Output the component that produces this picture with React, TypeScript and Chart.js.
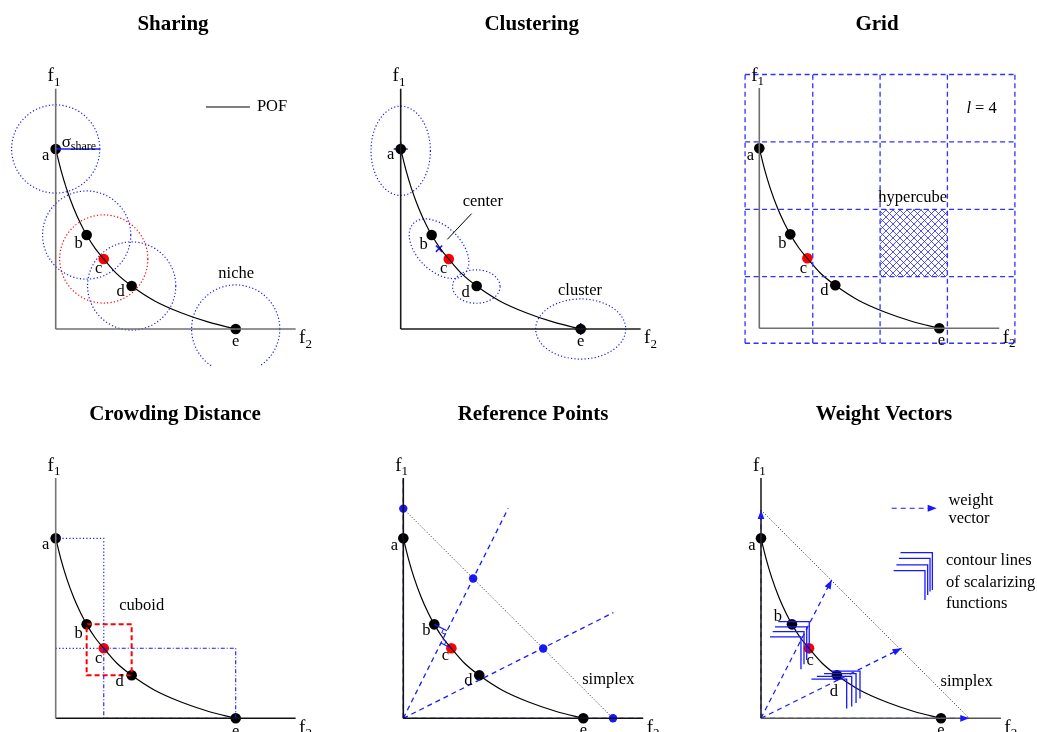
import React, { useEffect, useRef } from "react";
import { Chart, registerables } from "chart.js";

Chart.register(...registerables);

// ---------- shared data (f2 on x, f1 on y; 1 unit = distance origin -> e) ----------
const UNIT = 180;
const SERIF = '"Liberation Serif", "Times New Roman", serif';
const BLUE = "#1818ff";
const RED = "#ff0000";
const GRAY = "#6f6f6f";

const POINT_NAMES = ["a", "b", "c", "d", "e"];
const POINT_F2 = [0, 0.172, 0.267, 0.422, 1];
const POINT_F1 = [1, 0.522, 0.389, 0.239, 0];
const POINT_COLORS = ["#000", "#000", RED, "#000", "#000"];

const POF_F2 = [0, 0.03, 0.06, 0.1, 0.14, 0.172, 0.22, 0.267, 0.34, 0.422, 0.55, 0.7, 0.85, 1];
const POF_F1 = [1, 0.88, 0.78, 0.671, 0.582, 0.522, 0.446, 0.389, 0.306, 0.239, 0.156, 0.089, 0.038, 0];

const AXIS_F1_TOP = 1.335;
const AXIS_F2_END = 1.333;

// Sharing
const NICHE_RADIUS = 0.245;

// Clustering
const CLUSTER_CX = [0, 0.213, 0.42, 1];
const CLUSTER_CY = [0.99, 0.446, 0.236, 0];
const CLUSTER_RX = [0.165, 0.2, 0.132, 0.25];
const CLUSTER_RY = [0.248, 0.122, 0.093, 0.167];
const CLUSTER_TILT = [0, 45, 0, 0];
const CENTER_F2 = [0, 0.213, 0.422, 1];
const CENTER_F1 = [1, 0.446, 0.239, 0];

// Grid
const GRID_F2 = [-0.079, 0.297, 0.671, 1.045, 1.42];
const GRID_F1 = [-0.083, 0.287, 0.661, 1.036, 1.41];
const HYPERCUBE_COL = 2;
const HYPERCUBE_ROW = 1;

// Reference points
const REF_F2 = [0, 0.388, 0.777, 1.165];
const REF_F1 = [1.165, 0.777, 0.388, 0];
const REF_LINE_END_F2 = [0.583, 1.167];
const REF_LINE_END_F1 = [1.167, 0.587];
const NICHED_POINTS = [1, 2];
const PERP_FOOT_F2 = [0.243, 0.209];
const PERP_FOOT_F1 = [0.486, 0.418];
const RIGHT_ANGLE_F2 = [[0.2234, 0.2136, 0.2332], [0.2287, 0.2385, 0.2188]];
const RIGHT_ANGLE_F1 = [[0.4959, 0.4762, 0.4663], [0.4082, 0.4279, 0.4377]];

// Weight vectors
const WEIGHT_TIP_F2 = [0, 0.393, 0.781, 1.157];
const WEIGHT_TIP_F1 = [1.157, 0.769, 0.389, 0];
const SIMPLEX_W = 1.157;
const CONTOUR_B_CORNER_F2 = [0.268, 0.254, 0.239, 0.222];
const CONTOUR_B_CORNER_F1 = [0.537, 0.508, 0.482, 0.452];
const CONTOUR_B_LEFT = [0.096, 0.078, 0.065, 0.05];
const CONTOUR_B_BOTTOM = [0.36, 0.324, 0.3, 0.272];
const CONTOUR_D_CORNER_F2 = [0.55, 0.528, 0.504, 0.476];
const CONTOUR_D_CORNER_F1 = [0.262, 0.248, 0.233, 0.218];
const CONTOUR_D_LEFT = [0.39, 0.35, 0.31, 0.28];
const CONTOUR_D_BOTTOM = [0.11, 0.085, 0.065, 0.055];
const LEG_CONTOUR_CORNER_F2 = [0.952, 0.939, 0.926, 0.911];
const LEG_CONTOUR_CORNER_F1 = [0.92, 0.889, 0.852, 0.82];
const LEG_CONTOUR_LEFT = [0.775, 0.766, 0.752, 0.737];
const LEG_CONTOUR_BOTTOM = [0.713, 0.704, 0.685, 0.657];

// ---------- helpers ----------
type P = { x: number | null; y: number | null };
const pts = (xs: number[], ys: number[]): P[] => xs.map((x, i) => ({ x, y: ys[i] }));
const BREAK: P = { x: null, y: null };
const joinPaths = (paths: P[][]): P[] => paths.flatMap((p) => [...p, BREAK]);

const lineDs = (data: P[], color: string, width = 1.2, dash: number[] = [], extra: any = {}) => ({
  data,
  showLine: true,
  borderColor: color,
  borderWidth: width,
  borderDash: dash,
  pointRadius: 0,
  pointHoverRadius: 0,
  fill: false,
  tension: 0,
  ...extra,
});

const markDs = (xs: number[], ys: number[], colors: any, radius: any, extra: any = {}) => ({
  data: pts(xs, ys),
  showLine: false,
  pointRadius: radius,
  pointHoverRadius: radius,
  pointBackgroundColor: colors,
  pointBorderColor: colors,
  pointBorderWidth: 0,
  ...extra,
});

const axesDs = (colY: string, colX: string = colY) => [
  lineDs(pts([0, 0], [0, AXIS_F1_TOP]), colY, 1.6),
  lineDs(pts([0, AXIS_F2_END], [0, 0]), colX, 1.6),
];
const pofDs = () =>
  lineDs(pts(POF_F2, POF_F1), "#000", 1.2, [], { tension: 0.4, cubicInterpolationMode: "monotone" });
const pointsDs = () => markDs(POINT_F2, POINT_F1, POINT_COLORS, 5.3);

const contourPaths = (cx: number[], cy: number[], left: number[], bottom: number[]) =>
  joinPaths(cx.map((x, i) => pts([left[i], x, x], [cy[i], cy[i], bottom[i]])));

const AXIS_TEXTS = [
  { t: "f", sub: "1", x: -0.045, y: 1.376, size: 19, subSize: 13, drop: 4.5 },
  { t: "f", sub: "2", x: 1.352, y: -0.08, size: 19, subSize: 13, drop: 4.5 },
];

const I = { a: 0, b: 1, c: 2, d: 3, e: 4 };

// ---------- panels ----------
const PANELS: any[] = [
  {
    left: 0, top: 0, width: 345, height: 366, ox: 55.7, oy: 329,
    title: "Sharing", titleX: 173, titleY: 29.5,
    labelOffsets: [[-10, 7], [-8, 9], [-5, 10], [-11, 6], [0, 13]],
    ellipses: POINT_F2.map((x, i) => ({
      cx: x, cy: POINT_F1[i], rx: NICHE_RADIUS, ry: NICHE_RADIUS, rot: 0, color: i === I.c ? RED : BLUE,
    })),
    arrows: [],
    texts: [
      ...AXIS_TEXTS,
      { t: "POF", x: 1.118, y: 1.233, align: "left" },
      { t: "σ", sub: "share", x: 0.033, y: 1.013, size: 17, subSize: 12, drop: 3 },
      { t: "niche", x: 1.003, y: 0.306 },
    ],
    build: () => [
      ...axesDs(GRAY),
      lineDs(pts([0, NICHE_RADIUS], [POINT_F1[I.a], POINT_F1[I.a]]), BLUE, 1.3),
      lineDs(pts([0.835, 1.079], [1.233, 1.233]), "#000", 1.1),
      pofDs(),
      pointsDs(),
    ],
  },
  {
    left: 345, top: 0, width: 345, height: 366, ox: 55.7, oy: 329,
    title: "Clustering", titleX: 186.7, titleY: 29.5,
    labelOffsets: [[-10, 6], [-8, 10], [-5, 10], [-11, 7], [0, 13]],
    ellipses: CLUSTER_CX.map((x, i) => ({
      cx: x, cy: CLUSTER_CY[i], rx: CLUSTER_RX[i], ry: CLUSTER_RY[i], rot: CLUSTER_TILT[i], color: BLUE,
    })),
    arrows: [],
    texts: [...AXIS_TEXTS, { t: "center", x: 0.456, y: 0.706 }, { t: "cluster", x: 0.996, y: 0.213 }],
    build: () => [
      ...axesDs("#1a1a1a"),
      lineDs(pts([0.394, 0.259], [0.641, 0.498]), "#000", 1),
      pofDs(),
      pointsDs(),
      markDs(CENTER_F2, CENTER_F1, BLUE, [7, 4.5, 4.5, 6], {
        pointStyle: ["cross", "crossRot", "cross", "cross"],
        pointBorderWidth: 1.5,
        pointBackgroundColor: "rgba(0,0,0,0)",
      }),
    ],
  },
  {
    left: 690, top: 0, width: 347, height: 366, ox: 69.3, oy: 328.3,
    title: "Grid", titleX: 187, titleY: 29.5,
    labelOffsets: [[-9, 7], [-8, 9], [-4, 10], [-11, 5], [2, 12]],
    ellipses: [],
    arrows: [],
    texts: [
      ...AXIS_TEXTS,
      { t: "hypercube", x: 0.852, y: 0.728 },
      { parts: [{ t: "l", italic: true }, { t: " = 4" }], x: 1.235, y: 1.222 },
    ],
    build: (pattern: any) => {
      const x0 = GRID_F2[HYPERCUBE_COL], x1 = GRID_F2[HYPERCUBE_COL + 1];
      const y0 = GRID_F1[HYPERCUBE_ROW], y1 = GRID_F1[HYPERCUBE_ROW + 1];
      const gridPaths = [
        ...GRID_F2.map((x) => pts([x, x], [GRID_F1[0], GRID_F1[GRID_F1.length - 1]])),
        ...GRID_F1.map((y) => pts([GRID_F2[0], GRID_F2[GRID_F2.length - 1]], [y, y])),
      ];
      return [
        lineDs(pts([x0, x1, x1, x0, x0], [y0, y0, y1, y1, y0]), "rgba(0,0,0,0)", 0, [], {
          fill: "shape",
          backgroundColor: pattern,
        }),
        lineDs(joinPaths(gridPaths), "#3030ff", 1.3, [5, 3.5]),
        ...axesDs(GRAY),
        pofDs(),
        pointsDs(),
      ];
    },
  },
  {
    left: 0, top: 366, width: 345, height: 366, ox: 55.7, oy: 352.3,
    title: "Crowding Distance", titleX: 175, titleY: 53.5,
    labelOffsets: [[-10, 6], [-8, 9], [-5, 10], [-12, 6], [0, 13]],
    ellipses: [],
    arrows: [],
    texts: [...AXIS_TEXTS, { t: "cuboid", x: 0.478, y: 0.624 }],
    build: () => {
      const A = I.a, B = I.b, C = I.c, D = I.d, E = I.e;
      return [
        ...axesDs("#777", "#111"),
        lineDs(
          joinPaths([
            pts([POINT_F2[A], POINT_F2[C], POINT_F2[C]], [POINT_F1[A], POINT_F1[A], POINT_F1[C]]),
            pts([POINT_F2[A], POINT_F2[C]], [POINT_F1[C], POINT_F1[C]]),
          ]),
          BLUE, 1.2, [1.2, 2.2]
        ),
        lineDs(
          joinPaths([
            pts([POINT_F2[C], POINT_F2[E], POINT_F2[E]], [POINT_F1[C], POINT_F1[C], POINT_F1[E]]),
            pts([POINT_F2[C], POINT_F2[C], POINT_F2[E]], [POINT_F1[C], POINT_F1[E], POINT_F1[E]]),
          ]),
          BLUE, 1.1, [4, 2, 1, 2]
        ),
        pofDs(),
        lineDs(
          pts(
            [POINT_F2[B], POINT_F2[D], POINT_F2[D], POINT_F2[B], POINT_F2[B]],
            [POINT_F1[B], POINT_F1[B], POINT_F1[D], POINT_F1[D], POINT_F1[B]]
          ),
          RED, 2, [5, 3]
        ),
        pointsDs(),
      ];
    },
  },
  {
    left: 345, top: 366, width: 345, height: 366, ox: 58.3, oy: 352.3,
    title: "Reference Points", titleX: 188, titleY: 53.5,
    labelOffsets: [[-9, 7], [-8, 6], [-6, 7], [-11, 5], [0, 12]],
    ellipses: [],
    arrows: [],
    texts: [...AXIS_TEXTS, { t: "simplex", x: 1.139, y: 0.213 }],
    build: () => [
      ...axesDs("#111"),
      lineDs(joinPaths([pts([0, 0], [0, AXIS_F1_TOP]), pts([0, AXIS_F2_END], [0, 0])]), BLUE, 1.3, [5, 4]),
      lineDs(pts([REF_F2[0], REF_F2[REF_F2.length - 1]], [REF_F1[0], REF_F1[REF_F1.length - 1]]), "#222", 1, [1, 2]),
      lineDs(joinPaths(REF_LINE_END_F2.map((x, i) => pts([0, x], [0, REF_LINE_END_F1[i]]))), BLUE, 1.3, [5, 4]),
      lineDs(
        joinPaths(NICHED_POINTS.map((p, i) => pts([POINT_F2[p], PERP_FOOT_F2[i]], [POINT_F1[p], PERP_FOOT_F1[i]]))),
        BLUE, 1.2
      ),
      lineDs(joinPaths(RIGHT_ANGLE_F2.map((xs, i) => pts(xs, RIGHT_ANGLE_F1[i]))), BLUE, 1),
      pofDs(),
      pointsDs(),
      markDs(REF_F2, REF_F1, BLUE, 4.2),
    ],
  },
  {
    left: 690, top: 366, width: 347, height: 366, ox: 71, oy: 352.3,
    title: "Weight Vectors", titleX: 194, titleY: 53.5,
    labelOffsets: [[-9, 7], [-14, -8], [1, 12], [-3, 16], [0, 12]],
    ellipses: [],
    arrows: [
      ...WEIGHT_TIP_F2.map((x, i) => [0, 0, x, WEIGHT_TIP_F1[i]]),
      [0.726, 1.167, 0.976, 1.167],
    ],
    texts: [
      ...AXIS_TEXTS,
      { t: "weight", x: 1.041, y: 1.207, align: "left" },
      { t: "vector", x: 1.041, y: 1.107, align: "left" },
      { t: "contour lines", x: 1.028, y: 0.874, align: "left" },
      { t: "of scalarizing", x: 1.028, y: 0.756, align: "left" },
      { t: "functions", x: 1.028, y: 0.639, align: "left" },
      { t: "simplex", x: 1.143, y: 0.203 },
    ],
    build: () => [
      ...axesDs("#222", "#555"),
      lineDs(joinPaths(WEIGHT_TIP_F2.map((x, i) => pts([0, x], [0, WEIGHT_TIP_F1[i]]))), BLUE, 1.2, [5, 4]),
      lineDs(pts([0, SIMPLEX_W], [SIMPLEX_W, 0]), "#222", 1, [1, 2]),
      lineDs(contourPaths(CONTOUR_B_CORNER_F2, CONTOUR_B_CORNER_F1, CONTOUR_B_LEFT, CONTOUR_B_BOTTOM), BLUE, 1.3),
      lineDs(contourPaths(CONTOUR_D_CORNER_F2, CONTOUR_D_CORNER_F1, CONTOUR_D_LEFT, CONTOUR_D_BOTTOM), BLUE, 1.3),
      pofDs(),
      pointsDs(),
      lineDs(pts([0.726, 0.976], [1.167, 1.167]), BLUE, 1.2, [5, 4]),
      lineDs(contourPaths(LEG_CONTOUR_CORNER_F2, LEG_CONTOUR_CORNER_F1, LEG_CONTOUR_LEFT, LEG_CONTOUR_BOTTOM), BLUE, 1.3),
    ],
  },
];

// ---------- drawing plugin ----------
function overlayPlugin(spec: any) {
  return {
    id: "overlay",
    beforeDatasetsDraw(chart: any) {
      const ctx = chart.ctx;
      const xs = chart.scales.x, ys = chart.scales.y;
      ctx.save();
      for (const e of spec.ellipses) {
        const cx = xs.getPixelForValue(e.cx), cy = ys.getPixelForValue(e.cy);
        const rx = Math.abs(xs.getPixelForValue(e.cx + e.rx) - cx);
        const ry = Math.abs(ys.getPixelForValue(e.cy + e.ry) - cy);
        ctx.beginPath();
        ctx.ellipse(cx, cy, rx, ry, ((e.rot || 0) * Math.PI) / 180, 0, Math.PI * 2);
        ctx.strokeStyle = e.color;
        ctx.lineWidth = 1.2;
        ctx.setLineDash([1.2, 2.2]);
        ctx.stroke();
      }
      ctx.restore();
    },
    afterDatasetsDraw(chart: any) {
      const ctx = chart.ctx;
      const xs = chart.scales.x, ys = chart.scales.y;
      const X = (v: number) => xs.getPixelForValue(v);
      const Y = (v: number) => ys.getPixelForValue(v);
      ctx.save();
      ctx.setLineDash([]);
      // arrow heads
      ctx.fillStyle = BLUE;
      for (const a of spec.arrows) {
        const x1 = X(a[0]), y1 = Y(a[1]), x2 = X(a[2]), y2 = Y(a[3]);
        const ang = Math.atan2(y2 - y1, x2 - x1);
        const L = 9, W = 3.4;
        const bx = x2 - L * Math.cos(ang), by = y2 - L * Math.sin(ang);
        ctx.beginPath();
        ctx.moveTo(x2, y2);
        ctx.lineTo(bx + W * Math.sin(ang), by - W * Math.cos(ang));
        ctx.lineTo(bx - W * Math.sin(ang), by + W * Math.cos(ang));
        ctx.closePath();
        ctx.fill();
      }
      ctx.fillStyle = "#000";
      // point labels
      ctx.font = `16.5px ${SERIF}`;
      ctx.textAlign = "center";
      ctx.textBaseline = "middle";
      POINT_NAMES.forEach((n, i) => {
        const o = spec.labelOffsets[i];
        ctx.fillText(n, X(POINT_F2[i]) + o[0], Y(POINT_F1[i]) + o[1]);
      });
      // texts
      for (const t of spec.texts) {
        const px = X(t.x), py = Y(t.y);
        const size = t.size || 16.5;
        if (t.sub) {
          ctx.textAlign = "left";
          ctx.textBaseline = "alphabetic";
          ctx.font = `${size}px ${SERIF}`;
          ctx.fillText(t.t, px, py);
          const w = ctx.measureText(t.t).width;
          ctx.font = `${t.subSize}px ${SERIF}`;
          ctx.fillText(t.sub, px + w, py + (t.drop || 4));
        } else if (t.parts) {
          ctx.textBaseline = "middle";
          ctx.textAlign = "left";
          const fonts = t.parts.map((p: any) => `${p.italic ? "italic " : ""}${size}px ${SERIF}`);
          let total = 0;
          const widths = t.parts.map((p: any, i: number) => {
            ctx.font = fonts[i];
            const w = ctx.measureText(p.t).width;
            total += w;
            return w;
          });
          let cx = px - total / 2;
          t.parts.forEach((p: any, i: number) => {
            ctx.font = fonts[i];
            ctx.fillText(p.t, cx, py);
            cx += widths[i];
          });
        } else {
          ctx.font = `${size}px ${SERIF}`;
          ctx.textAlign = t.align || "center";
          ctx.textBaseline = "middle";
          ctx.fillText(t.t, px, py);
        }
      }
      // title
      ctx.font = `bold 21px ${SERIF}`;
      ctx.textAlign = "center";
      ctx.textBaseline = "alphabetic";
      ctx.fillText(spec.title, spec.titleX, spec.titleY);
      ctx.restore();
    },
  };
}

function makeHatch(): CanvasPattern | null {
  const c = document.createElement("canvas");
  c.width = 7;
  c.height = 7;
  const g = c.getContext("2d")!;
  g.strokeStyle = "rgba(40,40,255,0.9)";
  g.lineWidth = 0.9;
  g.beginPath();
  g.moveTo(0, 0);
  g.lineTo(7, 7);
  g.moveTo(7, 0);
  g.lineTo(0, 7);
  g.stroke();
  return g.createPattern(c, "repeat");
}

function Panel({ spec }: { spec: any }) {
  const ref = useRef<HTMLCanvasElement>(null);
  useEffect(() => {
    const canvas = ref.current!;
    const datasets = spec.build(makeHatch());
    const chart = new Chart(canvas, {
      type: "scatter",
      data: { datasets },
      options: {
        responsive: false,
        animation: false,
        devicePixelRatio: 1,
        events: [],
        layout: { padding: 0, autoPadding: false },
        plugins: { legend: { display: false }, tooltip: { enabled: false }, title: { display: false } },
        scales: {
          x: { type: "linear", display: false, min: -spec.ox / UNIT, max: (spec.width - spec.ox) / UNIT },
          y: { type: "linear", display: false, min: -(spec.height - spec.oy) / UNIT, max: spec.oy / UNIT },
        },
      } as any,
      plugins: [overlayPlugin(spec)],
    });
    return () => chart.destroy();
  }, [spec]);
  return (
    <canvas
      ref={ref}
      width={spec.width}
      height={spec.height}
      style={{ position: "absolute", left: spec.left, top: spec.top, width: spec.width, height: spec.height }}
    />
  );
}

export default function App() {
  return (
    <div style={{ position: "absolute", left: 0, top: 0, width: 1037, height: 732, background: "#fff", overflow: "hidden" }}>
      {PANELS.map((p, i) => (
        <Panel key={i} spec={p} />
      ))}
    </div>
  );
}
